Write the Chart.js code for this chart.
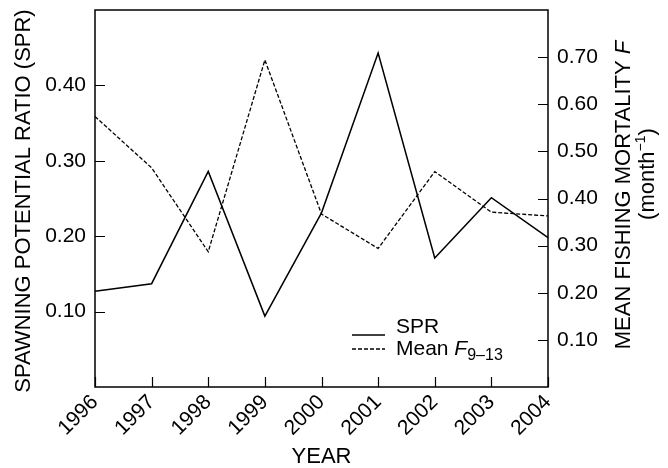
<!DOCTYPE html>
<html>
<head>
<meta charset="utf-8">
<script src="https://cdn.jsdelivr.net/npm/chart.js@4"></script>
<style>
  html, body { margin: 0; padding: 0; background: #fff; }
  #wrap { width: 668px; height: 468px; }
</style>
</head>
<body>
<div id="wrap"><canvas id="chart" width="668" height="468"></canvas></div>
<script>
// values
const years = ["1996", "1997", "1998", "1999", "2000", "2001", "2002", "2003", "2004"];
const spr = [0.127, 0.137, 0.286, 0.094, 0.231, 0.443, 0.171, 0.251, 0.198];
const meanF = [0.574, 0.465, 0.287, 0.694, 0.367, 0.294, 0.457, 0.371, 0.363];
const leftTicks = [0.1, 0.2, 0.3, 0.4];
const rightTicks = [0.1, 0.2, 0.3, 0.4, 0.5, 0.6, 0.7];

const FONT = "'Liberation Sans', Arial, sans-serif";
Chart.defaults.font.family = FONT;
Chart.defaults.font.size = 21;
Chart.defaults.color = "#000";

// draws a row of text pieces, each with its own style and baseline shift
function drawPieces(ctx, pieces, x, y) {
  let cx = x;
  pieces.forEach(p => {
    ctx.font = (p.italic ? "italic " : "") + p.size + "px " + FONT;
    ctx.fillText(p.text, cx, y + (p.dy || 0));
    cx += ctx.measureText(p.text).width;
  });
  return cx - x;
}
function piecesWidth(ctx, pieces) {
  let w = 0;
  pieces.forEach(p => {
    ctx.font = (p.italic ? "italic " : "") + p.size + "px " + FONT;
    w += ctx.measureText(p.text).width;
  });
  return w;
}
// rotated (bottom-to-top) text centred on cx, cy
function drawVertical(ctx, pieces, cx, cy) {
  ctx.save();
  ctx.translate(cx, cy);
  ctx.rotate(-Math.PI / 2);
  ctx.textAlign = "left";
  ctx.textBaseline = "middle";
  drawPieces(ctx, pieces, -piecesWidth(ctx, pieces) / 2, 0);
  ctx.restore();
}

// only keep the labelled ticks (no label at the axis ends)
const keepTicks = list => scale => {
  scale.ticks = scale.ticks.filter(t => list.some(v => Math.abs(v - t.value) < 1e-6));
};
// fixed axis sizes so the plot box lands where it is in the figure
const fitY = w => s => { s.width = w; s.paddingTop = 0; s.paddingBottom = 0; };

const decorations = {
  id: "decorations",
  afterDraw(chart) {
    const { ctx, chartArea: a, scales } = chart;
    ctx.save();
    ctx.strokeStyle = "#000";
    ctx.fillStyle = "#000";

    // frame
    ctx.lineWidth = 1.5;
    ctx.strokeRect(a.left, a.top, a.right - a.left, a.bottom - a.top);

    // inward tick marks
    ctx.beginPath();
    leftTicks.forEach(v => {
      const y = Math.round(scales.y.getPixelForValue(v)) + 0.5;
      ctx.moveTo(a.left, y); ctx.lineTo(a.left + 10, y);
    });
    rightTicks.forEach(v => {
      const y = Math.round(scales.y1.getPixelForValue(v)) + 0.5;
      ctx.moveTo(a.right, y); ctx.lineTo(a.right - 10, y);
    });
    years.forEach((yr, i) => {
      const x = Math.round(scales.x.getPixelForValue(i)) + 0.5;
      ctx.moveTo(x, a.bottom); ctx.lineTo(x, a.bottom - 10);
    });
    ctx.lineWidth = 1.2;
    ctx.stroke();

    // axis titles
    ctx.textBaseline = "middle";
    ctx.textAlign = "center";
    ctx.font = "22px " + FONT;
    ctx.fillText("YEAR", (a.left + a.right) / 2, 457);

    drawVertical(ctx, [{ text: "SPAWNING POTENTIAL RATIO (SPR)", size: 22 }], 24, 201);
    drawVertical(ctx, [
      { text: "MEAN FISHING MORTALITY ", size: 22 },
      { text: "F", size: 22, italic: true }
    ], 624, 195);
    drawVertical(ctx, [
      { text: "(month", size: 22 },
      { text: "\u22121", size: 14, dy: -7 },
      { text: ")", size: 22 }
    ], 648, 174);

    // legend
    ctx.textAlign = "left";
    ctx.textBaseline = "alphabetic";
    const ds = chart.data.datasets;
    ctx.lineWidth = ds[0].borderWidth;
    ctx.setLineDash([]);
    ctx.beginPath(); ctx.moveTo(352, 335); ctx.lineTo(385, 335); ctx.stroke();
    drawPieces(ctx, [{ text: "SPR", size: 21 }], 396, 333);
    ctx.lineWidth = ds[1].borderWidth;
    ctx.setLineDash(ds[1].borderDash);
    ctx.beginPath(); ctx.moveTo(352, 349); ctx.lineTo(385, 349); ctx.stroke();
    ctx.setLineDash([]);
    drawPieces(ctx, [
      { text: "Mean ", size: 21 },
      { text: "F", size: 21, italic: true },
      { text: "9\u201313", size: 16, dy: 5 }
    ], 396, 355);

    ctx.restore();
  }
};

new Chart(document.getElementById("chart").getContext("2d"), {
  type: "line",
  data: {
    labels: years,
    datasets: [
      {
        label: "SPR",
        data: spr,
        yAxisID: "y",
        borderColor: "#000",
        borderWidth: 1.5,
        pointRadius: 0,
        tension: 0,
        fill: false
      },
      {
        label: "Mean F9-13",
        data: meanF,
        yAxisID: "y1",
        borderColor: "#000",
        borderWidth: 1.3,
        borderDash: [4, 2],
        pointRadius: 0,
        tension: 0,
        fill: false
      }
    ]
  },
  options: {
    responsive: false,
    animation: false,
    layout: { padding: { top: 10, left: 0, right: 0, bottom: 0 }, autoPadding: false },
    plugins: { legend: { display: false }, tooltip: { enabled: false } },
    scales: {
      x: {
        type: "category",
        offset: false,
        grid: { display: false, drawTicks: false },
        border: { display: false },
        ticks: { minRotation: 45, maxRotation: 45, padding: 3, font: { size: 21 } },
        afterFit: s => { s.height = 81; s.paddingLeft = 0; s.paddingRight = 0; }
      },
      y: {
        position: "left",
        min: 0,
        max: 0.5,
        grid: { display: false, drawTicks: false },
        border: { display: false },
        ticks: {
          stepSize: 0.1,
          padding: 9,
          font: { size: 21 },
          callback: v => v.toFixed(2)
        },
        afterBuildTicks: keepTicks(leftTicks),
        afterFit: fitY(95)
      },
      y1: {
        position: "right",
        min: 0,
        max: 0.8,
        grid: { display: false, drawTicks: false },
        border: { display: false },
        ticks: {
          stepSize: 0.1,
          padding: 9,
          font: { size: 21 },
          callback: v => v.toFixed(2)
        },
        afterBuildTicks: keepTicks(rightTicks),
        afterFit: fitY(120)
      }
    }
  },
  plugins: [decorations]
});
</script>
</body>
</html>
